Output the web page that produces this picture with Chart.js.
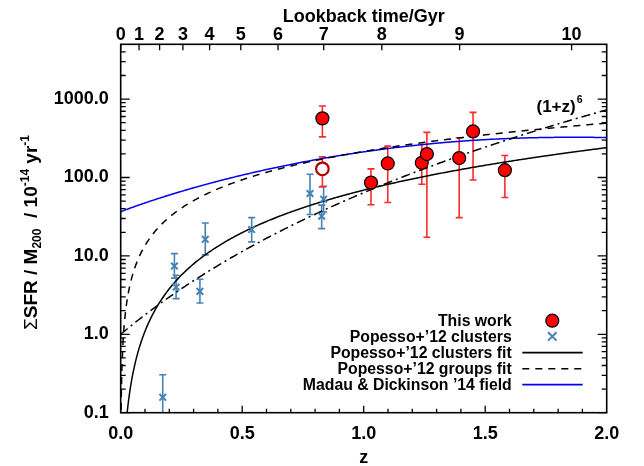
<!DOCTYPE html>
<html>
<head>
<meta charset="utf-8">
<script src="https://cdn.jsdelivr.net/npm/chart.js@4.4.1/dist/chart.umd.min.js"></script>
<style>
  html, body { margin: 0; padding: 0; background: #fff; }
  canvas { display: block; }
</style>
</head>
<body>
<canvas id="c" width="644" height="466"></canvas>
<script>
// ---- This work (filled symbols): z, value, upper and lower error limits
const workZ   = [1.030, 1.099, 1.239, 1.260, 1.393, 1.450, 1.581, 0.830];
const workVal = [86,    151,   154,   199,   177,   387,   124,   568];
const workHi  = [129,   251,   263,   376,   321,   677,   191,   815];
const workLo  = [45,    48,    82,    17.3,  30.8,  93,    55.6,  330];

// ---- This work (open symbol)
const openZ   = [0.830];
const openVal = [129];
const openHi  = [183];
const openLo  = [76];

// ---- Popesso+'12 clusters
const popZ   = [0.173, 0.221, 0.228, 0.326, 0.348, 0.539, 0.779, 0.827, 0.835];
const popVal = [0.157, 7.43,  4.01,  3.53,  16.3,  21.7,  62.5,  32.1,  52.9];
const popHi  = [0.305, 10.7,  5.66,  5.03,  26.3,  30.8,  110,   44.4,  77.5];
const popLo  = [0.04,  5.2,   2.85,  2.51,  10.3,  15.1,  33.7,  22.3,  36.4];

// ---- Fit parameters: value = norm * z^slope
const clusterFit = [69, 1.8];
const groupFit   = [215, 1.2];
// (1+z)^n reference curve
const powerIndex = 6;
// Madau & Dickinson 2014 SFRD: a (1+z)^b / (1 + ((1+z)/c)^d)
const md14 = [0.015, 2.7, 2.9, 5.6];
// cosmology: H0 [km/s/Mpc], Omega_m (flat)
const cosmo = [70, 0.3];

// ---- Tick labels
const zTicks = [0, 0.5, 1.0, 1.5, 2.0];
const yTicks = [0.1, 1, 10, 100, 1000];
const lookbackTicks = [0, 1, 2, 3, 4, 5, 6, 7, 8, 9, 10];

const Z_MIN = 0, Z_MAX = 2, Y_MIN = 0.1, Y_MAX = 5000;
const FONT = '"Liberation Sans", Arial, Helvetica, sans-serif';

// ---- Cosmology helpers
const hubbleTimeGyr = 977.8 / cosmo[0];
function lookbackGyr(z) {
  const n = 200, h = z / n;
  const f = x => 1 / ((1 + x) * Math.sqrt(cosmo[1] * Math.pow(1 + x, 3) + 1 - cosmo[1]));
  let s = f(0) + f(z);
  for (let i = 1; i < n; i++) s += (i % 2 ? 4 : 2) * f(i * h);
  return hubbleTimeGyr * s * h / 3;
}
function zAtLookback(t) {
  let lo = 0, hi = 10;
  for (let i = 0; i < 60; i++) {
    const mid = (lo + hi) / 2;
    if (lookbackGyr(mid) < t) lo = mid; else hi = mid;
  }
  return (lo + hi) / 2;
}
const lookbackZ = lookbackTicks.map(zAtLookback);

// mean comoving matter density [Msun / Mpc^3]
const h100 = cosmo[0] / 100;
const rhoMatter = cosmo[1] * 2.775e11 * h100 * h100;

// ---- Model curves
const zGrid = [];
[0.0005, 0.001, 0.0015, 0.002, 0.003].forEach(v => zGrid.push(v));
for (let i = 1; i <= 400; i++) zGrid.push(i * 0.005);

const clusterCurve = zGrid.filter(z => z >= 0.01).map(z => ({ x: z, y: clusterFit[0] * Math.pow(z, clusterFit[1]) }));
const groupCurve   = zGrid.map(z => ({ x: z, y: groupFit[0] * Math.pow(z, groupFit[1]) }));
const powerCurve   = [0].concat(zGrid).map(z => ({ x: z, y: Math.pow(1 + z, powerIndex) }));
const fieldCurve   = [0].concat(zGrid).map(z => {
  const sfrd = md14[0] * Math.pow(1 + z, md14[1]) / (1 + Math.pow((1 + z) / md14[2], md14[3]));
  return { x: z, y: sfrd / rhoMatter * 1e14 };
});

const pts = (zs, vs) => zs.map((z, i) => ({ x: z, y: vs[i] }));

const RED = '#ff0000';
const ERR_RED = '#ff2a2a';
const STEEL = '#4682b4';
const BLUE = '#0000f0';

// ---- Error bars, drawn under the markers
const errorBars = {
  id: 'errorBars',
  beforeDatasetsDraw(chart) {
    const { ctx, chartArea: a, scales: { x, y } } = chart;
    ctx.save();
    ctx.beginPath();
    ctx.rect(a.left, a.top, a.right - a.left, a.bottom - a.top);
    ctx.clip();
    const draw = (zs, hi, lo, color, cap) => {
      ctx.strokeStyle = color;
      ctx.lineWidth = 1.6;
      zs.forEach((z, i) => {
        const px = x.getPixelForValue(z);
        const pTop = y.getPixelForValue(hi[i]);
        const pBot = y.getPixelForValue(lo[i]);
        ctx.beginPath();
        ctx.moveTo(px, pTop); ctx.lineTo(px, pBot);
        ctx.moveTo(px - cap, pTop); ctx.lineTo(px + cap, pTop);
        ctx.moveTo(px - cap, pBot); ctx.lineTo(px + cap, pBot);
        ctx.stroke();
      });
    };
    draw(popZ, popHi, popLo, STEEL, 3.5);
    draw(workZ, workHi, workLo, ERR_RED, 3.5);
    draw(openZ, openHi, openLo, ERR_RED, 3.5);
    ctx.restore();
  }
};

// ---- Frame, inward ticks, titles, legend
const decorations = {
  id: 'decorations',
  afterDraw(chart) {
    const { ctx, chartArea: a, scales: { x, y } } = chart;
    ctx.save();
    ctx.strokeStyle = '#000';
    ctx.fillStyle = '#000';
    ctx.lineWidth = 1.6;

    // frame
    ctx.strokeRect(a.left, a.top, a.right - a.left, a.bottom - a.top);

    ctx.lineWidth = 1.3;
    ctx.beginPath();
    // log ticks left and right
    for (let d = -1; d <= 3; d++) {
      for (let m = 1; m <= 9; m++) {
        const v = m * Math.pow(10, d);
        if (v < Y_MIN || v >= Y_MAX) continue;
        const py = y.getPixelForValue(v);
        const len = m === 1 ? 9 : 5;
        ctx.moveTo(a.left, py); ctx.lineTo(a.left + len, py);
        ctx.moveTo(a.right, py); ctx.lineTo(a.right - len, py);
      }
    }
    // redshift ticks on the bottom axis
    for (let i = 1; i < 20; i++) {
      const px = x.getPixelForValue(i * 0.1);
      const len = i % 5 === 0 ? 7 : 4;
      ctx.moveTo(px, a.bottom); ctx.lineTo(px, a.bottom - len);
    }
    // lookback-time ticks on the top axis
    lookbackZ.forEach(z => {
      const px = x.getPixelForValue(z);
      ctx.moveTo(px, a.top); ctx.lineTo(px, a.top + 6);
    });
    ctx.stroke();

    // lookback-time tick labels
    ctx.textAlign = 'center';
    ctx.textBaseline = 'alphabetic';
    ctx.font = 'bold 18px ' + FONT;
    lookbackZ.forEach((z, i) => {
      ctx.fillText(String(lookbackTicks[i]), x.getPixelForValue(z), 40);
    });

    // axis titles
    ctx.fillText('z', x.getPixelForValue(1), 463);
    ctx.fillText('Lookback time/Gyr', (a.left + a.right) / 2, 21.5);

    // y title with sub/superscripts
    const parts = [
      { t: '\u03A3', size: 19, w: 'normal', dy: 0 },
      { t: 'SFR / M', size: 19, w: 'bold', dy: 0 },
      { t: '200', size: 12, w: 'bold', dy: 4 },
      { t: '  / 10', size: 19, w: 'bold', dy: 0 },
      { t: '-14', size: 12, w: 'bold', dy: -8 },
      { t: ' yr', size: 19, w: 'bold', dy: 0 },
      { t: '-1', size: 12, w: 'bold', dy: -8 }
    ];
    let total = 0;
    parts.forEach(p => { ctx.font = p.w + ' ' + p.size + 'px ' + FONT; p.width = ctx.measureText(p.t).width; total += p.width; });
    ctx.save();
    ctx.translate(37, 232.5);
    ctx.rotate(-Math.PI / 2);
    ctx.textAlign = 'left';
    let cx = -total / 2;
    parts.forEach(p => { ctx.font = p.w + ' ' + p.size + 'px ' + FONT; ctx.fillText(p.t, cx, p.dy); cx += p.width; });
    ctx.restore();

    // (1+z)^6 label
    ctx.textAlign = 'left';
    ctx.font = 'bold 17px ' + FONT;
    ctx.fillText('(1+z)', 536.5, 111.5);
    const lw = ctx.measureText('(1+z)').width;
    ctx.font = 'bold 10.5px ' + FONT;
    ctx.fillText(String(powerIndex), 536.5 + lw + 1, 103);

    // legend
    const textRight = 511.7, symX = 552.3, lineL = 522.3, lineR = 582.7;
    const rowY = [320.7, 336.4, 352.6, 368.8, 384.6];
    const labels = ['This work', 'Popesso+\u201912 clusters', 'Popesso+\u201912 clusters fit',
                    'Popesso+\u201912 groups fit', 'Madau & Dickinson \u201914 field'];
    ctx.font = 'bold 15.8px ' + FONT;
    ctx.textAlign = 'right';
    labels.forEach((s, i) => ctx.fillText(s, textRight, rowY[i] + 5.6));

    // legend symbols
    ctx.beginPath();
    ctx.arc(symX, rowY[0], 6.5, 0, Math.PI * 2);
    ctx.fillStyle = RED; ctx.fill();
    ctx.lineWidth = 1.2; ctx.strokeStyle = '#000'; ctx.stroke();

    ctx.strokeStyle = STEEL; ctx.lineWidth = 2;
    const r = 4.2;
    ctx.beginPath();
    ctx.moveTo(symX - r, rowY[1] - r); ctx.lineTo(symX + r, rowY[1] + r);
    ctx.moveTo(symX + r, rowY[1] - r); ctx.lineTo(symX - r, rowY[1] + r);
    ctx.stroke();

    const legLine = (yy, color, dash) => {
      ctx.strokeStyle = color; ctx.lineWidth = 1.6; ctx.setLineDash(dash);
      ctx.beginPath(); ctx.moveTo(lineL, yy); ctx.lineTo(lineR, yy); ctx.stroke();
      ctx.setLineDash([]);
    };
    legLine(rowY[2], '#000', []);
    legLine(rowY[3], '#000', [7, 6]);
    legLine(rowY[4], BLUE, []);

    ctx.restore();
  }
};

const curve = (data, color, dash) => ({
  type: 'scatter', data, showLine: true, borderColor: color, borderWidth: 1.5,
  borderDash: dash, pointRadius: 0, pointHoverRadius: 0, order: 10, clip: 0
});

new Chart(document.getElementById('c'), {
  type: 'scatter',
  data: {
    datasets: [
      {
        data: pts(workZ, workVal), pointStyle: 'circle', pointRadius: 6.5,
        backgroundColor: RED, borderColor: '#000', borderWidth: 1.2, order: 0
      },
      {
        data: pts(openZ, openVal), pointStyle: 'circle', pointRadius: 6.3,
        backgroundColor: '#fff', borderColor: '#b00000', borderWidth: 2.2, order: 0
      },
      {
        data: pts(popZ, popVal), pointStyle: 'crossRot', pointRadius: 4.7,
        borderColor: STEEL, borderWidth: 2, order: 1
      },
      curve(clusterCurve, '#000', []),
      curve(groupCurve, '#000', [7, 6]),
      curve(powerCurve, '#000', [9, 4, 2, 4]),
      curve(fieldCurve, BLUE, [])
    ]
  },
  options: {
    responsive: false,
    animation: false,
    devicePixelRatio: 1,
    events: [],
    layout: { padding: { left: 0, top: 0, bottom: 0, right: 644 - 606.7 } },
    plugins: { legend: { display: false }, tooltip: { enabled: false } },
    scales: {
      x: {
        type: 'linear', position: 'bottom', min: Z_MIN, max: Z_MAX,
        afterBuildTicks: s => { s.ticks = zTicks.map(v => ({ value: v })); },
        afterFit: s => { s.height = 466 - 412.7; },
        ticks: {
          callback: v => Number(v).toFixed(1), autoSkip: false, maxRotation: 0,
          font: { family: FONT, size: 18, weight: 'bold' }, color: '#000', padding: 3
        },
        grid: { display: false }, border: { display: false }
      },
      xTop: {
        type: 'linear', position: 'top', min: Z_MIN, max: Z_MAX,
        afterBuildTicks: s => { s.ticks = lookbackZ.map(v => ({ value: v })); },
        afterFit: s => { s.height = 44.3; },
        ticks: { display: false },
        grid: { display: false }, border: { display: false }
      },
      y: {
        type: 'logarithmic', position: 'left', min: Y_MIN, max: Y_MAX,
        afterBuildTicks: s => { s.ticks = yTicks.map(v => ({ value: v })); },
        afterFit: s => { s.width = 120.7; },
        ticks: {
          callback: v => Number(v).toFixed(1), autoSkip: false,
          font: { family: FONT, size: 18, weight: 'bold' }, color: '#000', padding: 4
        },
        grid: { display: false }, border: { display: false }
      }
    }
  },
  plugins: [errorBars, decorations]
});
</script>
</body>
</html>
